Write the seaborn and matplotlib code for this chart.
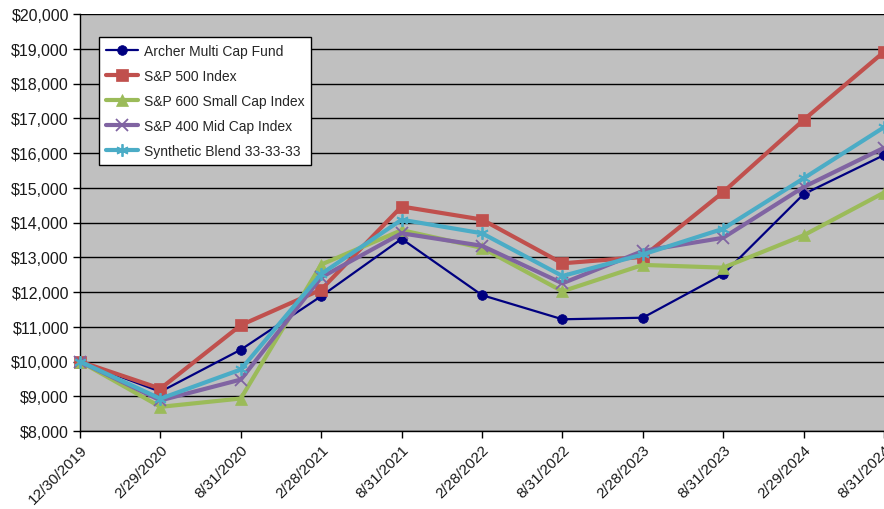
import matplotlib
matplotlib.use("Agg")
import matplotlib.pyplot as plt
import seaborn as sns
import pandas as pd
import numpy as np

dates = ["12/30/2019", "2/29/2020", "8/31/2020", "2/28/2021", "8/31/2021", "2/28/2022",
         "8/31/2022", "2/28/2023", "8/31/2023", "2/29/2024", "8/31/2024"]
archer = [10000, 9130, 10340, 11880, 13530, 11910, 11215, 11260, 12510, 14815, 15940]
sp500 = [10000, 9220, 11045, 12070, 14460, 14085, 12825, 13010, 14875, 16950, 18910]
sp600 = [10000, 8695, 8935, 12790, 13780, 13270, 12020, 12780, 12700, 13630, 14860]
sp400 = [10000, 8880, 9480, 12420, 13690, 13330, 12250, 13180, 13560, 15020, 16150]
blend = [10000, 8930, 9770, 12520, 14080, 13690, 12460, 13080, 13820, 15270, 16740]
yticks = list(range(8000, 20001, 1000))

names = ["Archer Multi Cap Fund", "S&P 500 Index", "S&P 600 Small Cap Index",
         "S&P 400 Mid Cap Index", "Synthetic Blend 33-33-33"]
series = [archer, sp500, sp600, sp400, blend]
colors = ["#000080", "#C0504D", "#9BBB59", "#8064A2", "#4BACC6"]
markers = ["o", "s", "^", "x", (6, 2, 0)]
msizes = [7, 8, 8, 8, 9]
lws = [1.6, 3.0, 3.0, 3.0, 3.0]

sns.set_theme(style="white")
plt.rcParams['font.family'] = ['Liberation Sans', 'DejaVu Sans']

fig = plt.figure(figsize=(8.84, 5.10), dpi=100)
ax = fig.add_axes([80/884, 1 - 432/510, 804/884, 417/510])
ax.set_facecolor("#C0C0C0")

pos = np.arange(len(dates))
for name, vals, c, m, ms, lw in zip(names, series, colors, markers, msizes, lws):
    df = pd.DataFrame({"x": pos, "y": vals})
    sns.lineplot(data=df, x="x", y="y", ax=ax, color=c, marker=m, markersize=ms,
                 linewidth=lw, markeredgecolor=c,
                 markeredgewidth=1.3 if m in ("x", (6, 2, 0)) else 0.5,
                 label=name, clip_on=False, zorder=3)

ax.set_xlim(0, len(dates) - 1)
ax.set_ylim(8000, 20000)
ax.set_yticks(yticks)
ax.set_yticklabels([f"${v:,}" for v in yticks], fontsize=11.5, color="#1a1a1a")
ax.set_xticks(pos)
ax.set_xticklabels(dates, rotation=45, ha="right", rotation_mode="anchor", fontsize=11, color="#1a1a1a")
ax.set_xlabel("")
ax.set_ylabel("")
ax.yaxis.grid(True, color="black", linewidth=1.0)
ax.set_axisbelow(True)
for s in ["top", "right"]:
    ax.spines[s].set_visible(False)
for s in ["left", "bottom"]:
    ax.spines[s].set_color("black")
    ax.spines[s].set_linewidth(1.0)
ax.tick_params(axis="both", which="major", direction="out", length=5, width=1, color="black",
               left=True, bottom=True, pad=3)

leg = ax.legend(loc="upper left", bbox_to_anchor=(0.024, 0.945), borderaxespad=0,
                fontsize=10, frameon=True, fancybox=False, edgecolor="black",
                handlelength=2.3, labelspacing=0.8, borderpad=0.5, handletextpad=0.4)
leg.get_frame().set_linewidth(1.0)
leg.get_frame().set_facecolor("white")
leg.get_frame().set_alpha(1)
leg.set_zorder(5)

fig.savefig("out.png", dpi=100)
